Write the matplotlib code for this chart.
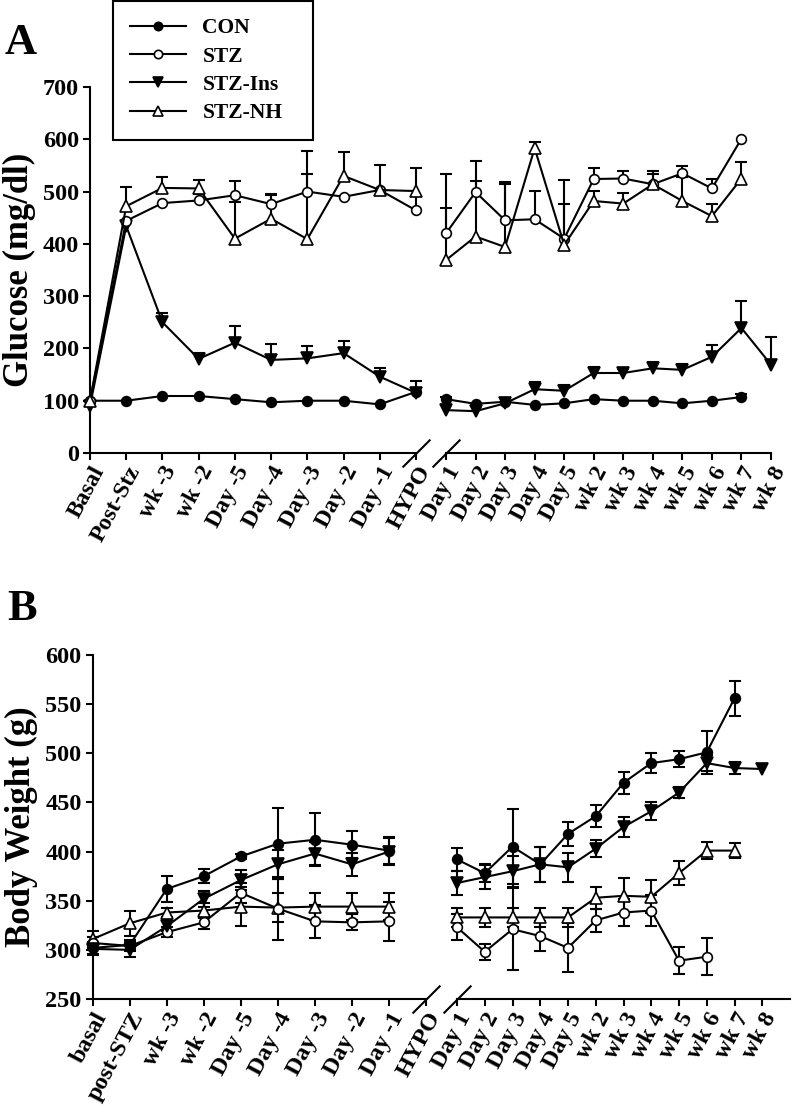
import numpy as np
import matplotlib
matplotlib.use("Agg")
import matplotlib.pyplot as plt
from matplotlib.lines import Line2D

nan = np.nan
plt.rcParams['font.family'] = ['Liberation Serif', 'DejaVu Serif']
plt.rcParams['font.weight'] = 'bold'

# ---------------- data ----------------
series_names = ['CON', 'STZ', 'STZ-Ins', 'STZ-NH']

# Panel A (glucose)
A_labels_left = ['Basal', 'Post-Stz', 'wk -3', 'wk -2', 'Day -5', 'Day -4', 'Day -3', 'Day -2', 'Day -1', 'HYPO']
A_labels_right = ['Day 1', 'Day 2', 'Day 3', 'Day 4', 'Day 5', 'wk 2', 'wk 3', 'wk 4', 'wk 5', 'wk 6', 'wk 7', 'wk 8']

A_CON_L = [100, 100, 109, 109, 103, 97, 100, 100, 93, 117]
A_CON_R = [103, 94, 98, 92, 95, 103, 100, 100, 95, 100, 107, nan]
A_CON_up_L = [0, 0, 0, 0, 0, 0, 0, 0, 0, 0]
A_CON_up_R = [5, 0, 0, 0, 0, 0, 0, 0, 0, 0, 5, 0]

A_STZ_L = [100, 444, 478, 483, 493, 476, 500, 490, 503, 464]
A_STZ_R = [420, 499, 445, 447, 410, 524, 525, 514, 535, 506, 601, nan]
A_STZ_up_L = [0, 0, 0, 13, 0, 18, 33, 0, 0, 82]
A_STZ_lo_L = [0, 0, 0, 0, 13, 0, 0, 0, 0, 0]
A_STZ_up_R = [113, 60, 73, 55, 66, 22, 15, 26, 13, 19, 0, 0]

A_INS_L = [90, 434, 250, 180, 211, 178, 181, 191, 146, 115]
A_INS_R = [82, 80, 95, 122, 119, 153, 153, 162, 159, 184, 239, 169]
A_INS_up_L = [0, 0, 18, 12, 31, 30, 24, 24, 16, 22]
A_INS_up_R = [0, 0, 0, 14, 11, 12, 7, 13, 12, 23, 51, 52]

A_NH_L = [100, 472, 507, 506, 410, 448, 409, 530, 503, 501]
A_NH_R = [369, 414, 394, 583, 398, 482, 477, 514, 482, 453, 525, nan]
A_NH_up_L = [0, 37, 20, 16, 110, 48, 168, 45, 47, 0]
A_NH_up_R = [100, 106, 120, 12, 124, 20, 21, 20, 45, 23, 32, 0]

A_yticks = [0, 100, 200, 300, 400, 500, 600, 700]

# Panel B (body weight)
B_labels_left = ['basal', 'post-STZ', 'wk -3', 'wk -2', 'Day -5', 'Day -4', 'Day -3', 'Day -2', 'Day -1', 'HYPO']
B_labels_right = ['Day 1', 'Day 2', 'Day 3', 'Day 4', 'Day 5', 'wk 2', 'wk 3', 'wk 4', 'wk 5', 'wk 6', 'wk 7', 'wk 8']

B_CON_L = [302, 305, 362, 375, 395, 408, 412, 407, 401, nan]
B_CON_err_L = [6, 5, 13, 7, 3, 36, 27, 14, 14, 0]
B_CON_R = [392, 378, 405, 387, 418, 436, 470, 490, 494, 501, 556, nan]
B_CON_err_R = [12, 9, 38, 18, 12, 11, 11, 10, 8, 22, 18, 0]

B_STZ_L = [307, 304, 318, 328, 358, 342, 329, 328, 329, nan]
B_STZ_err_L = [6, 5, 5, 7, 10, 32, 17, 8, 20, 0]
B_STZ_R = [323, 298, 321, 314, 302, 330, 338, 340, 289, 293, nan, nan]
B_STZ_err_R = [13, 8, 42, 15, 25, 12, 14, 16, 14, 19, 0, 0]

B_INS_L = [301, 300, 324, 352, 371, 387, 398, 387, 400, nan]
B_INS_err_L = [6, 7, 5, 8, 10, 15, 12, 12, 14, 0]
B_INS_R = [368, 374, 380, 387, 384, 403, 425, 441, 460, 490, 485, 484]
B_INS_err_R = [12, 12, 16, 18, 15, 9, 10, 9, 6, 8, 6, 0]

B_NH_L = [311, 327, 338, 340, 344, 343, 344, 344, 344, nan]
B_NH_err_L = [8, 13, 5, 8, 20, 15, 14, 14, 14, 0]
B_NH_R = [333, 333, 333, 333, 333, 353, 355, 354, 378, 401, 401, nan]
B_NH_err_R = [10, 10, 10, 10, 10, 11, 18, 17, 12, 9, 8, 0]

B_yticks = [250, 300, 350, 400, 450, 500, 550, 600]

# ---------------- styles ----------------
styles = {
    'CON': dict(marker='o', mfc='black', ms=7),
    'STZ': dict(marker='o', mfc='white', ms=7),
    'STZ-Ins': dict(marker='v', mfc='black', ms=8),
    'STZ-NH': dict(marker='^', mfc='white', ms=8),
}
LW = 1.5
YTICK_FS = 17.5

W, H = 793, 1115
fig = plt.figure(figsize=(W / 100, H / 100), dpi=100)


def draw_series(ax, name, y, up, lo=None, z=3):
    y = np.asarray(y, dtype=float)
    x = np.arange(len(y))
    up = np.asarray(up, dtype=float)
    lo = np.zeros_like(up) if lo is None else np.asarray(lo, dtype=float)
    valid = ~np.isnan(y)
    m = valid & ((up > 0) | (lo > 0))
    if m.any():
        ax.vlines(x[m], (y - lo)[m], (y + up)[m], color='black', lw=LW, zorder=z - 0.5, clip_on=False)
    mu = valid & (up > 0)
    if mu.any():
        ax.plot(x[mu], (y + up)[mu], ls='none', marker='_', ms=8, mew=LW, color='black',
                zorder=z - 0.5, clip_on=False)
    ml = valid & (lo > 0)
    if ml.any():
        ax.plot(x[ml], (y - lo)[ml], ls='none', marker='_', ms=8, mew=LW, color='black',
                zorder=z - 0.5, clip_on=False)
    st = styles[name]
    ax.plot(x, y, color='black', lw=LW, marker=st['marker'], mfc=st['mfc'], mec='black',
            ms=st['ms'], mew=1.2, zorder=z, clip_on=False)


def style_axes(ax_l, ax_r, labels_l, labels_r, ylim, yticks, xlim_r, xfs):
    for ax in (ax_l, ax_r):
        ax.patch.set_alpha(0)
        ax.spines['top'].set_visible(False)
        ax.spines['right'].set_visible(False)
        ax.spines['bottom'].set_linewidth(LW)
        ax.set_ylim(*ylim)
        ax.tick_params(axis='x', direction='out', length=5, width=LW, labelsize=xfs, pad=2)
    ax_l.spines['left'].set_linewidth(LW)
    ax_r.spines['left'].set_visible(False)
    ax_l.set_yticks(yticks)
    ax_l.tick_params(axis='y', direction='out', length=5, width=LW, labelsize=YTICK_FS, pad=3)
    ax_r.set_yticks([])
    ax_l.set_xlim(0, len(labels_l) - 1)
    ax_r.set_xlim(*xlim_r)
    ax_l.set_xticks(np.arange(len(labels_l)))
    ax_l.set_xticklabels(labels_l, rotation=62, ha='right', va='top', rotation_mode='anchor',
                         fontweight='bold')
    ax_r.set_xticks(np.arange(len(labels_r)))
    ax_r.set_xticklabels(labels_r, rotation=62, ha='right', va='top', rotation_mode='anchor',
                         fontweight='bold')
    for t in ax_l.get_yticklabels():
        t.set_fontweight('bold')
    brk = dict(marker=[(-1, -1), (1, 1)], markersize=20, linestyle='none', color='black',
               mec='black', mew=LW, clip_on=False)
    ax_l.plot([1], [0], transform=ax_l.transAxes, **brk)
    ax_r.plot([0], [0], transform=ax_r.transAxes, **brk)


# ---------------- Panel A ----------------
axA_l = fig.add_axes([90 / W, (H - 453) / H, 326 / W, 366 / H])
axA_r = fig.add_axes([446 / W, (H - 453) / H, 325 / W, 366 / H])

draw_series(axA_l, 'CON', A_CON_L, A_CON_up_L, z=3)
draw_series(axA_l, 'STZ-Ins', A_INS_L, A_INS_up_L, z=3.2)
draw_series(axA_l, 'STZ', A_STZ_L, A_STZ_up_L, A_STZ_lo_L, z=3.4)
draw_series(axA_l, 'STZ-NH', A_NH_L, A_NH_up_L, z=3.6)

draw_series(axA_r, 'CON', A_CON_R, A_CON_up_R, z=3)
draw_series(axA_r, 'STZ-Ins', A_INS_R, A_INS_up_R, z=3.2)
draw_series(axA_r, 'STZ', A_STZ_R, A_STZ_up_R, z=3.4)
draw_series(axA_r, 'STZ-NH', A_NH_R, A_NH_up_R, z=3.6)

style_axes(axA_l, axA_r, A_labels_left, A_labels_right, (0, 700), A_yticks,
           (0, len(A_labels_right) - 1), 17)
axA_l.set_ylabel('Glucose (mg/dl)', fontsize=25, fontweight='bold', labelpad=5)

# ---------------- Panel B ----------------
axB_l = fig.add_axes([92.7 / W, (H - 999) / H, 333.3 / W, 344 / H])
axB_r = fig.add_axes([457 / W, (H - 999) / H, 333 / W, 344 / H])

draw_series(axB_l, 'STZ-NH', B_NH_L, B_NH_err_L, B_NH_err_L, z=3)
draw_series(axB_l, 'STZ', B_STZ_L, B_STZ_err_L, B_STZ_err_L, z=3.2)
draw_series(axB_l, 'STZ-Ins', B_INS_L, B_INS_err_L, B_INS_err_L, z=3.4)
draw_series(axB_l, 'CON', B_CON_L, B_CON_err_L, B_CON_err_L, z=3.6)

draw_series(axB_r, 'STZ-NH', B_NH_R, B_NH_err_R, B_NH_err_R, z=3)
draw_series(axB_r, 'STZ', B_STZ_R, B_STZ_err_R, B_STZ_err_R, z=3.2)
draw_series(axB_r, 'STZ-Ins', B_INS_R, B_INS_err_R, B_INS_err_R, z=3.4)
draw_series(axB_r, 'CON', B_CON_R, B_CON_err_R, B_CON_err_R, z=3.6)

style_axes(axB_l, axB_r, B_labels_left, B_labels_right, (250, 600), B_yticks,
           (0, len(B_labels_right)), 17.5)
axB_l.set_ylabel('Body Weight (g)', fontsize=25, fontweight='bold', labelpad=5)

# ---------------- legend & panel letters ----------------
handles = [Line2D([], [], color='black', lw=LW, marker=styles[n]['marker'], mfc=styles[n]['mfc'],
                  mec='black', ms=styles[n]['ms'] - 1, mew=1.2) for n in series_names]
leg = fig.legend(handles, series_names, loc='upper left',
                 bbox_to_anchor=(113 / W, 1 - 154 / H, 200 / W, 153 / H), mode='expand',
                 prop=dict(family='Liberation Serif', weight='bold', size=15.5),
                 frameon=True, fancybox=False, framealpha=1, edgecolor='black',
                 borderpad=0.8, labelspacing=0.38, handlelength=2.6, handletextpad=0.75,
                 borderaxespad=0)
leg.get_frame().set_linewidth(LW)
leg.set_zorder(10)

fig.text(5 / W, 1 - 43 / H, 'A', fontsize=32, fontweight='bold', ha='left', va='center')
fig.text(7 / W, 1 - 609 / H, 'B', fontsize=32, fontweight='bold', ha='left', va='center')

fig.savefig('out.png', dpi=100)
